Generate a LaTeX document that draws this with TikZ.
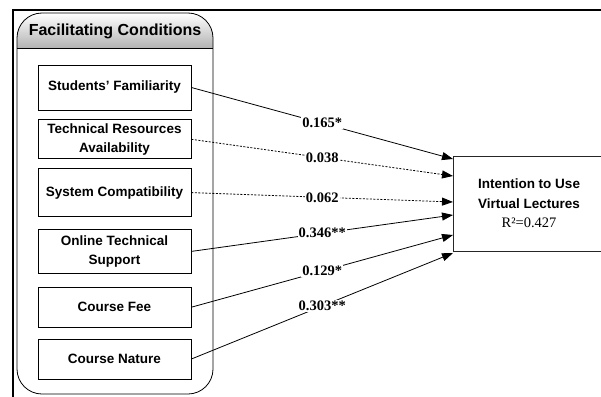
\documentclass[tikz,border=0pt]{standalone}
\usepackage{fontspec}
\setmainfont{Liberation Serif}
\setsansfont{Liberation Sans}
\usetikzlibrary{
        arrows.meta,
        positioning
    }
\tikzset{>={Triangle[length=11pt,width=8pt]},shorten >=0pt,node distance=9pt}
\tikzset{factor/.style={draw,line width=0.8pt,minimum width=153pt,align=center,inner sep=2pt,
        font=\fontsize{13.5}{18.5}\selectfont\sffamily\bfseries}}
\tikzset{coef/.style={fill=white,inner sep=1pt,font=\fontsize{14.5}{16}\selectfont\bfseries}}
\tikzset{nonsig/.style={dash pattern=on 2pt off 1.5pt}}

\begin{document}
\begin{tikzpicture}[x=1pt,y=-1pt,line width=0.8pt]
                        \useasboundingbox (0,0) rectangle (601,396);
                        \draw[line width=2pt] (13,398) -- (13,10) -- (603,10);
                        % facilitating conditions group
                        \begin{scope}
                            \clip[rounded corners=25pt] (17,13) rectangle (213,394);
                            \shade[top color=white,bottom color=black!30] (17,13) rectangle (213,48);
                        \end{scope}
                        \draw[rounded corners=25pt] (17,13) rectangle (213,394);
                        \draw (17,48) -- (213,48);
                        \node[anchor=base,font=\fontsize{16}{18}\selectfont\sffamily\bfseries] (fc) at (115,36) {Facilitating Conditions};
                        \node[factor,minimum height=45pt] (sf) at (114.5,87.5) {Students’ Familiarity};
                        \node[factor,minimum height=39pt] (tra) [below=of sf] {Technical Resources\\Availability};
                        \node[factor,minimum height=48pt] (sc) [below=of tra] {System Compatibility};
                        \node[factor,minimum height=44pt] (ots) [below=12pt of sc] {Online Technical\\Support};
                        \node[factor,minimum height=40pt] (cf) [below=13pt of ots] {Course Fee};
                        \node[factor,minimum height=40pt] (cn) [below=11pt of cf] {Course Nature};
                        % intention
                        \node[draw=black!85,minimum width=152pt,minimum height=95pt,align=center,inner sep=0pt,
                              font=\fontsize{13.5}{19.5}\selectfont\sffamily\bfseries] (iu) at (529,203.5)
                              {Intention to Use\\Virtual Lectures\\{\rmfamily\mdseries\fontsize{14.5}{19.5}\selectfont R²=0.427}};
                        \coordinate (in1) at (453,159);
                        \coordinate (in2) at (453,176);
                        \coordinate (in3) at (453,202);
                        \coordinate (in4) at (453,215);
                        \coordinate (in5) at (453,235);
                        \coordinate (in6) at (453,253);
                        \path[->]
                            (sf.east)  edge                node[coef] {0.165*}  (in1)
                            (tra.east) edge[nonsig]        node[coef] {0.038}   (in2)
                            (sc.east)  edge[nonsig]        node[coef] {0.062}   (in3)
                            (ots.east) edge                node[coef] {0.346**} (in4)
                            (cf.east)  edge                node[coef] {0.129*}  (in5)
                            (cn.east)  edge                node[coef] {0.303**} (in6);
                    \end{tikzpicture}
\end{document}
